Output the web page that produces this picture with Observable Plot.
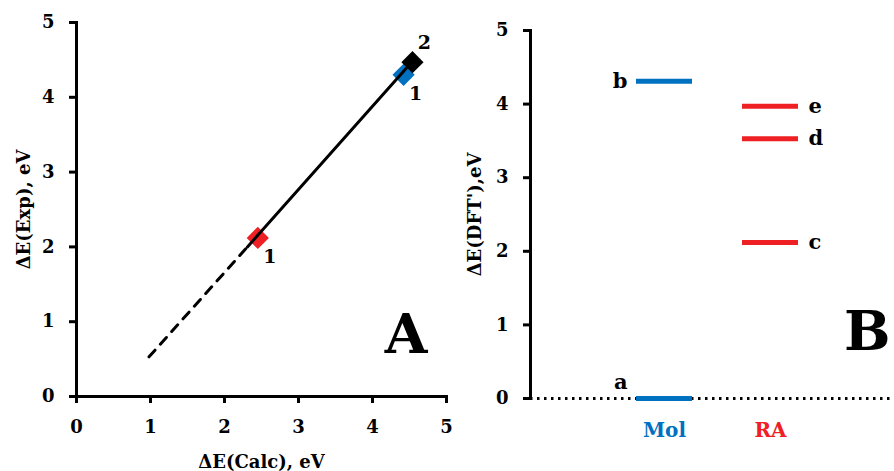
<!DOCTYPE html>
<html>
<head>
<meta charset="utf-8">
<script src="https://cdn.jsdelivr.net/npm/d3@7"></script>
<script src="https://cdn.jsdelivr.net/npm/@observablehq/plot@0.6"></script>
<style>
  html, body { margin: 0; padding: 0; background: #fff; }
  #wrap { display: flex; width: 894px; height: 471px; }
  svg { font-family: "DejaVu Serif", serif; font-weight: bold; }
</style>
</head>
<body>
<div id="wrap"></div>
<script>
// Panel A data
const calcValues = [2.45, 4.42, 4.54];
const expValues = [2.12, 4.30, 4.47];
const pointColors = ["#EE2024", "#0070C0", "#000000"];
const pointLabels = ["1", "1", "2"];
const solidFitX = [2.31, 4.52];
const solidFitY = [2.0, 4.46];
const dashedFitX = [0.98, 2.31];
const dashedFitY = [0.53, 2.0];
const ticksA = [0, 1, 2, 3, 4, 5];

// Panel B data
const levelGroups = ["Mol", "Mol", "RA", "RA", "RA"];
const levelValues = [0, 4.31, 2.12, 3.53, 3.97];
const levelLabels = ["a", "b", "c", "d", "e"];
const groupNames = ["Mol", "RA"];
const groupColors = ["#0070C0", "#EE2024"];
const ticksB = [0, 1, 2, 3, 4, 5];

const pts = calcValues.map((x, i) => ({x, y: expValues[i], c: pointColors[i], t: pointLabels[i], i}));
const solid = solidFitX.map((x, i) => ({x, y: solidFitY[i]}));
const dashed = dashedFitX.map((x, i) => ({x, y: dashedFitY[i]}));
const levels = levelValues.map((v, i) => ({g: levelGroups[i], v, t: levelLabels[i]}));

const fmt = d3.format("d");
const baseStyle = {fontFamily: "DejaVu Serif", fontWeight: "bold", fontSize: "18px", color: "#000", background: "#fff"};

const plotA = Plot.plot({
  width: 460, height: 471,
  marginLeft: 76, marginRight: 14, marginTop: 22, marginBottom: 75,
  style: baseStyle,
  x: {domain: [0, 5]},
  y: {domain: [0, 5]},
  marks: [
    Plot.axisX({ticks: ticksA, tickFormat: fmt, tickSize: 7, tickPadding: 17, strokeWidth: 3, label: null, fontSize: 18, fill: "#000"}),
    Plot.axisY({ticks: ticksA, tickFormat: fmt, tickSize: 7, tickPadding: 15, strokeWidth: 3, label: null, fontSize: 18, fill: "#000"}),
    Plot.frame({anchor: "left", strokeWidth: 3}),
    Plot.frame({anchor: "bottom", strokeWidth: 3}),
    Plot.dot(pts, {x: "x", y: "y", fill: "c", symbol: "diamond2", r: 10}),
    Plot.line(solid, {x: "x", y: "y", stroke: "#000", strokeWidth: 3}),
    Plot.line(dashed, {x: "x", y: "y", stroke: "#000", strokeWidth: 3, strokeDasharray: "9,8"}),
    Plot.text(pts, {filter: (d) => d.t === "1", x: "x", y: "y", text: "t", dx: 12, dy: 19, fontSize: 19, fill: "#000"}),
    Plot.text(pts, {filter: (d) => d.t === "2", x: "x", y: "y", text: "t", dx: 12, dy: -19, fontSize: 19, fill: "#000"}),
    Plot.text(["ΔE(Exp), eV"], {frameAnchor: "left", textAnchor: "middle", rotate: -90, dx: -52, fontSize: 18, fill: "#000"}),
    Plot.text(["ΔE(Calc), eV"], {frameAnchor: "bottom", dy: 71, fontSize: 18, fill: "#000"}),
    Plot.text(["A"], {frameAnchor: "bottom-right", dx: -19, dy: -44, fontSize: 55, fill: "#000"})
  ]
});

const plotB = Plot.plot({
  width: 434, height: 471,
  marginLeft: 70, marginRight: 0, marginTop: 30, marginBottom: 73,
  style: baseStyle,
  x: {type: "band", domain: groupNames, range: [175, 339], paddingInner: 0.467, paddingOuter: 0, axis: null},
  y: {domain: [0, 5]},
  marks: [
    Plot.axisY({ticks: ticksB, tickFormat: fmt, tickSize: 7, tickPadding: 15, strokeWidth: 3, label: null, fontSize: 18, fill: "#000"}),
    Plot.ruleY([0], {stroke: "#000", strokeWidth: 3, strokeDasharray: "2.5,4.5"}),
    Plot.frame({anchor: "left", strokeWidth: 3}),
    Plot.tickY(levels, {x: "g", y: "v", stroke: (d) => groupColors[groupNames.indexOf(d.g)], strokeWidth: 5}),
    Plot.text(levels, {filter: (d) => d.g === "Mol" && d.v > 0, x: "g", y: "v", text: "t", textAnchor: "end", dx: -37, fontSize: 21, fill: "#000"}),
    Plot.text(levels, {filter: (d) => d.g === "Mol" && d.v === 0, x: "g", y: "v", text: "t", textAnchor: "end", dx: -37, dy: -16, fontSize: 21, fill: "#000"}),
    Plot.text(levels, {filter: (d) => d.g === "RA", x: "g", y: "v", text: "t", textAnchor: "start", dx: 38, fontSize: 21, fill: "#000"}),
    Plot.text(groupNames, {x: (d) => d, text: (d) => d, fill: (d, i) => groupColors[i], frameAnchor: "bottom", dy: 38, fontSize: 20}),
    Plot.text(["ΔE(DFT'),eV"], {frameAnchor: "left", textAnchor: "middle", rotate: -90, dx: -55, fontSize: 18, fill: "#000"}),
    Plot.text(["B"], {frameAnchor: "bottom-right", dx: -4, dy: -49, fontSize: 55, fill: "#000"})
  ]
});

document.getElementById("wrap").append(plotA, plotB);
</script>
</body>
</html>
